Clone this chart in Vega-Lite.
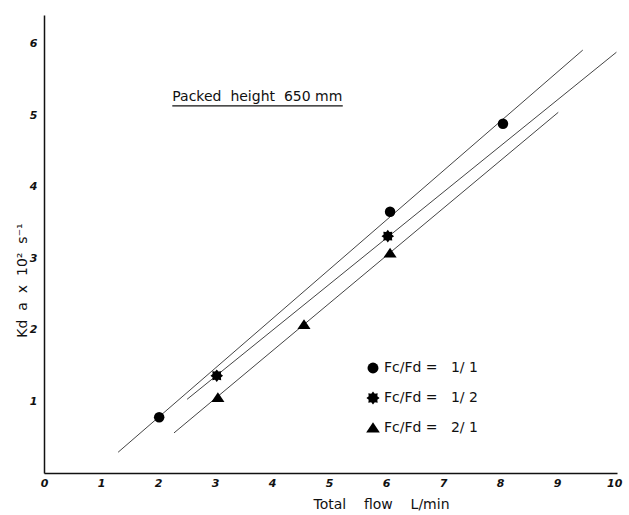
{
  "$schema": "https://vega.github.io/schema/vega-lite/v6.json",
  "width": 573,
  "height": 458,
  "autosize": {"type": "none"},
  "padding": {"left": 44, "top": 15, "right": 12, "bottom": 42},
  "background": "white",
  "config": {"view": {"stroke": null}, "font": "DejaVu Sans"},
  "datasets": {
    "fits": [
      {"series": "1/1", "x": 1.30, "y": 0.29},
      {"series": "1/1", "x": 9.45, "y": 5.91},
      {"series": "1/2", "x": 2.51, "y": 1.03},
      {"series": "1/2", "x": 10.04, "y": 5.88},
      {"series": "2/1", "x": 2.28, "y": 0.56},
      {"series": "2/1", "x": 9.02, "y": 5.04}
    ],
    "points": [
      {"series": "1/1", "x": 2.02, "y": 0.78},
      {"series": "1/1", "x": 6.07, "y": 3.65},
      {"series": "1/1", "x": 8.05, "y": 4.88},
      {"series": "1/2", "x": 3.03, "y": 1.36},
      {"series": "1/2", "x": 6.03, "y": 3.31},
      {"series": "2/1", "x": 3.05, "y": 1.05},
      {"series": "2/1", "x": 4.56, "y": 2.07},
      {"series": "2/1", "x": 6.07, "y": 3.07}
    ],
    "notes": [
      {"label": "Packed\u00a0\u00a0height\u00a0\u00a0650\u00a0mm", "x": 2.25, "y": 5.25}
    ],
    "underline": [
      {"x": 2.25, "x2": 5.24, "y": 5.13}
    ]
  },
  "encoding": {
    "x": {
      "field": "x",
      "type": "quantitative",
      "scale": {"domain": [0, 10.05], "nice": false, "zero": false},
      "axis": {
        "values": [0, 1, 2, 3, 4, 5, 6, 7, 8, 9, 10],
        "title": "Total\u00a0\u00a0\u00a0\u00a0flow\u00a0\u00a0\u00a0\u00a0L/min",
        "grid": false,
        "ticks": false,
        "domainColor": "#111",
        "domainWidth": 1.5,
        "labelPadding": 4,
        "labelFontSize": 11,
        "labelFontStyle": "italic",
        "labelFontWeight": "bold",
        "labelColor": "#111",
        "labelOverlap": false,
        "labelFlush": false,
        "titleFontSize": 14,
        "titleFontWeight": "normal",
        "titleColor": "#111",
        "titleX": 337,
        "titleY": 24
      }
    },
    "y": {
      "field": "y",
      "type": "quantitative",
      "scale": {"domain": [0, 6.4], "nice": false, "zero": false},
      "axis": {
        "values": [1, 2, 3, 4, 5, 6],
        "title": "Kd\u00a0\u00a0a\u00a0\u00a0x\u00a0\u00a010²\u00a0\u00a0s⁻¹",
        "grid": false,
        "ticks": false,
        "domainColor": "#111",
        "domainWidth": 1.5,
        "labelPadding": 7,
        "labelFontSize": 11,
        "labelFontStyle": "italic",
        "labelFontWeight": "bold",
        "labelColor": "#111",
        "labelOverlap": false,
        "labelFlush": false,
        "titleFontSize": 14,
        "titleFontWeight": "normal",
        "titleColor": "#111",
        "titleX": -15,
        "titleY": 265
      }
    }
  },
  "layer": [
    {
      "data": {"name": "fits"},
      "mark": {"type": "line", "color": "#444", "strokeWidth": 1},
      "encoding": {"detail": {"field": "series"}}
    },
    {
      "data": {"name": "points"},
      "mark": {"type": "point", "filled": true, "color": "black", "opacity": 1, "size": 110},
      "encoding": {
        "shape": {
          "field": "series",
          "type": "nominal",
          "scale": {
            "domain": ["1/1", "1/2", "2/1"],
            "range": [
              "circle",
              "M1.2,0L0.79,0.33L0.85,0.85L0.33,0.79L0,1.2L-0.33,0.79L-0.85,0.85L-0.79,0.33L-1.2,0L-0.79,-0.33L-0.85,-0.85L-0.33,-0.79L0,-1.2L0.33,-0.79L0.85,-0.85L0.79,-0.33Z",
              "M0,-1.05L1.25,0.8L-1.25,0.8Z"
            ]
          },
          "legend": {
            "title": null,
            "orient": "none",
            "legendX": 322,
            "legendY": 346,
            "padding": 0,
            "labelFontSize": 14,
            "labelColor": "#111",
            "labelExpr": "'Fc/Fd\u00a0=\u00a0\u00a0\u00a0' + replace(datum.label, '/', '/\u00a0')",
            "symbolSize": 120,
            "symbolFillColor": "black",
            "symbolStrokeColor": "black",
            "symbolOpacity": 1,
            "rowPadding": 11,
            "labelOffset": 4
          }
        }
      }
    },
    {
      "data": {"name": "notes"},
      "mark": {"type": "text", "align": "left", "baseline": "middle", "fontSize": 14, "color": "#111"},
      "encoding": {"text": {"field": "label"}}
    },
    {
      "data": {"name": "underline"},
      "mark": {"type": "rule", "color": "#111", "strokeWidth": 1.2},
      "encoding": {"x2": {"field": "x2"}}
    }
  ]
}
